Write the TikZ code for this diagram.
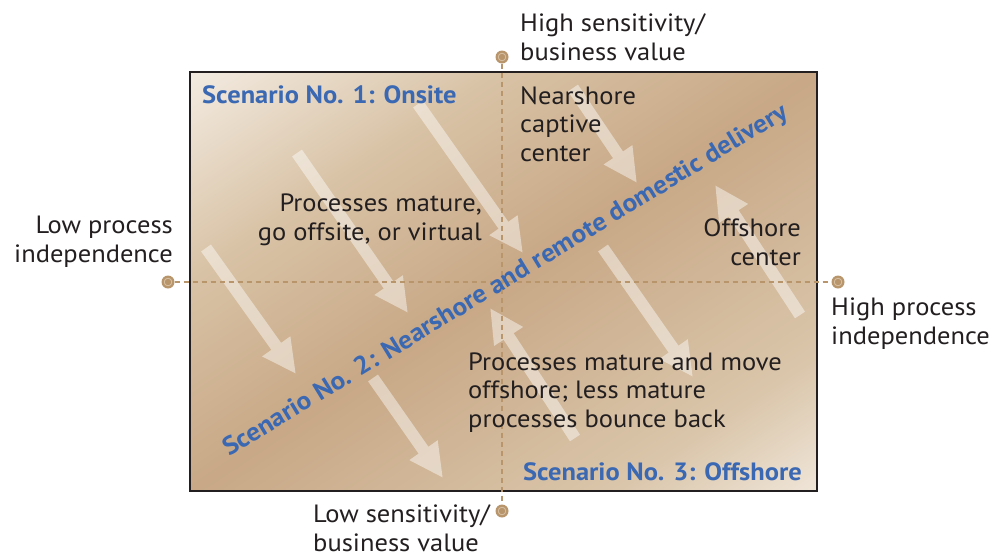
\documentclass[tikz,border=0pt]{standalone}
\usepackage{fontspec}
\setmainfont{PT Sans}[FakeStretch=1.06]
\usetikzlibrary{arrows.meta}
\definecolor{cTL}{HTML}{F3EBE1}
\definecolor{cTLm}{HTML}{D8C2A5}
\definecolor{cMid}{HTML}{C8A886}
\definecolor{cBRm}{HTML}{DAC6AB}
\definecolor{cBR}{HTML}{EFE5D8}
\definecolor{cTan}{HTML}{B8956A}
\definecolor{cDot}{HTML}{D8C3A5}
\definecolor{cText}{HTML}{231F20}
\definecolor{cBlue}{HTML}{3B68B2}
\pgfdeclareverticalshading{bgsh}{100bp}{color(0bp)=(cBR); color(25bp)=(cBR); color(33bp)=(cBRm); color(50bp)=(cMid); color(62.5bp)=(cTLm); color(75bp)=(cTL); color(100bp)=(cTL)}
\tikzset{
  lbl/.style={inner sep=0pt, text=cText, font=\fontsize{25}{28.5}\selectfont},
  scen/.style={inner sep=0pt, text=cBlue, font=\fontsize{25}{28.5}\selectfont\bfseries},
  axisline/.style={draw=cTan, line width=1.5pt, dash pattern=on 5pt off 4pt},
  dot/.style={circle, fill=cTan, minimum size=13pt, inner sep=0pt,
     path picture={\draw[cDot, line width=0.8pt] (path picture bounding box.center) circle (3.8pt);}},
  bigarrow/.style={white, line width=12pt, -{Triangle[length=34pt,width=32pt]}},
}
\begin{document}
\begin{tikzpicture}[x=1pt,y=-1pt]
\useasboundingbox (0,0) rectangle (996,555);
% background box
\begin{scope}
\clip (190,72) rectangle (817,491);
\begin{scope}[transform canvas={rotate around={33.75:(503.5,281.5)}}]
\shade[shading=bgsh] (3.5,-66.9) rectangle (1003.5,629.9);
\end{scope}
\end{scope}
% wide light arrows
\coordinate (a1s) at (418,104); \coordinate (a1e) at (523,253);
\coordinate (a2s) at (297,153); \coordinate (a2e) at (408,313);
\coordinate (a3s) at (206,248); \coordinate (a3e) at (296,374);
\coordinate (a4s) at (373,378); \coordinate (a4e) at (443,478);
\coordinate (a5s) at (573,88);  \coordinate (a5e) at (637,183);
\coordinate (a6s) at (800,315); \coordinate (a6e) at (715,185);
\coordinate (a7s) at (603,248); \coordinate (a7e) at (693,377);
\coordinate (a8s) at (575,438); \coordinate (a8e) at (490,308);
\begin{scope}[transparency group, opacity=0.45]
\foreach \i in {1,...,8}{\draw[bigarrow] (a\i s) -- (a\i e);}
\end{scope}
% frame
\draw[cText, line width=2.5pt] (190,72) rectangle (817,491);
% axes
\node[dot] (L) at (168,282) {};
\node[dot] (R) at (838,282) {};
\node[dot] (T) at (502,57) {};
\node[dot] (B) at (502,511) {};
\draw[axisline] (L) -- (R);
\draw[axisline] (T) -- (B);
% labels
\node[lbl, align=left, anchor=base west] (hs) at (520,60) {High sensitivity/\\business value};
\node[lbl, align=right, anchor=base east] (lp) at (173,262) {Low process\\independence};
\node[lbl, align=left, anchor=base west] (hp) at (831,344) {High process\\independence};
\node[lbl, align=left, anchor=base west] (ls) at (313,551) {Low sensitivity/\\business value};
\node[scen, anchor=base west] (s1) at (202,103) {Scenario No. 1: Onsite};
\node[scen, anchor=base east] (s3) at (802,480) {Scenario No. 3: Offshore};
\node[scen, rotate=31.3, font=\fontsize{25.6}{28.5}\selectfont\bfseries] (s2) at (506,281) {Scenario No. 2: Nearshore and remote domestic delivery};
\node[lbl, align=left, anchor=base west] (nc) at (520,161) {Nearshore\\captive\\center};
\node[lbl, align=right, anchor=base east] (pm) at (482,240) {Processes mature,\\go offsite, or virtual};
\node[lbl, align=right, anchor=base east] (oc) at (801,265) {Offshore\\center};
\node[lbl, align=left, anchor=base west] (pmm) at (468,427) {Processes mature and move\\offshore; less mature\\processes bounce back};
\end{tikzpicture}
\end{document}
